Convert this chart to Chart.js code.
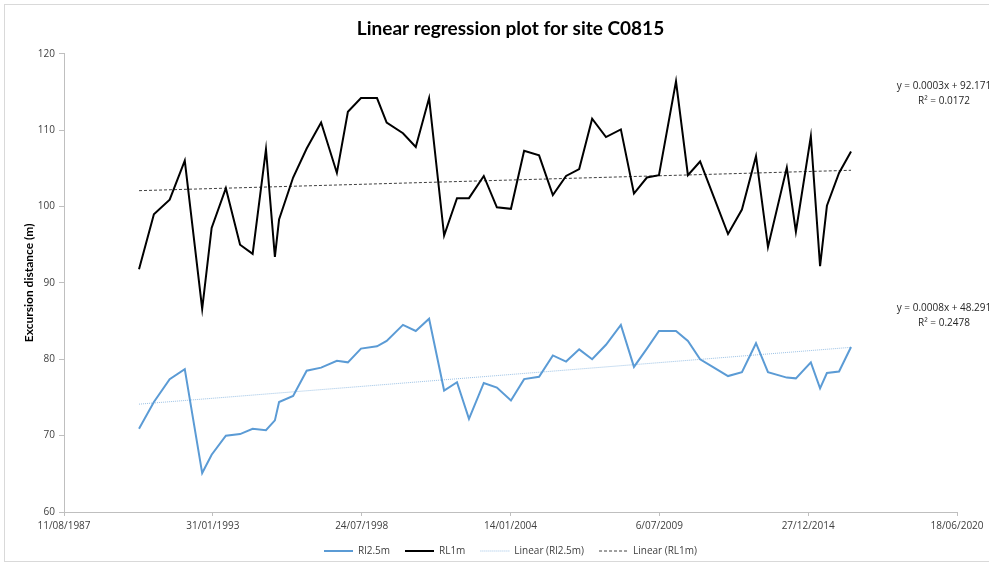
<!DOCTYPE html>
<html><head><meta charset="utf-8">
<script src="https://cdn.jsdelivr.net/npm/chart.js@4.4.1/dist/chart.umd.min.js"></script>
<style>html,body{margin:0;padding:0;background:#fff;}canvas{display:block}</style>
</head><body>
<canvas id="c" width="989" height="566"></canvas>
<script>
// ---- data ----
const sampleDates = [
 "1990-05-15","1990-12-01","1991-07-01","1992-01-20","1992-09-10","1993-01-15","1993-07-25","1994-02-01","1994-07-20","1995-01-15",
 "1995-05-15","1995-07-10","1996-01-15","1996-07-15","1997-01-25","1997-08-25","1998-01-20","1998-07-15","1999-02-15","1999-06-25",
 "2000-01-30","2000-07-20","2001-01-15","2001-08-05","2002-01-25","2002-07-05","2003-01-20","2003-07-15","2004-01-20","2004-07-15",
 "2005-02-01","2005-08-05","2006-01-30","2006-07-25","2007-01-15","2007-07-20","2008-02-05","2008-07-30","2009-01-20","2009-07-01",
 "2010-02-15","2010-07-25","2011-01-05","2011-07-10","2012-01-15","2012-07-20","2013-01-25","2013-07-05","2014-03-15","2014-07-15",
 "2015-02-01","2015-06-05","2015-09-05","2016-02-15","2016-07-25"];
const rl25Values = [
 70.9,74.4,77.4,78.7,65.1,67.5,70.0,70.2,70.9,70.7,
 72.0,74.4,75.2,78.5,78.9,79.8,79.6,81.4,81.7,82.4,
 84.5,83.7,85.3,75.9,77.0,72.2,76.9,76.3,74.6,77.4,
 77.7,80.5,79.7,81.3,80.0,81.9,84.5,79.0,81.4,83.7,
 83.7,82.4,80.0,78.9,77.8,78.3,82.1,78.3,77.6,77.5,
 79.6,76.2,78.2,78.4,81.6];
const rl1Values = [
 91.8,99.0,100.9,106.0,86.6,97.2,102.4,95.0,93.8,107.5,
 93.4,98.3,103.8,107.6,111.0,104.4,112.4,114.2,114.2,111.0,
 109.6,107.8,114.2,96.2,101.1,101.1,104.0,99.9,99.7,107.3,
 106.7,101.5,104.0,104.9,111.5,109.1,110.1,101.7,103.8,104.1,
 116.4,104.1,105.9,101.2,96.4,99.6,106.6,94.7,105.1,96.7,
 109.2,92.2,100.1,104.4,107.2];
const seriesNames = ["Rl2.5m","RL1m","Linear (Rl2.5m)","Linear (RL1m)"];
const xTickLabels = ["11/08/1987","31/01/1993","24/07/1998","14/01/2004","6/07/2009","27/12/2014","18/06/2020"];
const yTickValues = [60,70,80,90,100,110,120];
const trendEquations = [["y = 0.0003x + 92.171","R\u00B2 = 0.0172"],["y = 0.0008x + 48.291","R\u00B2 = 0.2478"]];

// Excel serial date numbers
function toSerial(s){const [y,m,d]=s.split('-').map(Number);return (Date.UTC(y,m-1,d)-Date.UTC(1899,11,30))/86400000;}
const xs = sampleDates.map(toSerial);
function pts(vals){return vals.map((v,i)=>({x:xs[i],y:v}));}
function trend(vals){
  const n=vals.length;let mx=0,my=0;for(let i=0;i<n;i++){mx+=xs[i];my+=vals[i];}mx/=n;my/=n;
  let sxy=0,sxx=0;for(let i=0;i<n;i++){sxy+=(xs[i]-mx)*(vals[i]-my);sxx+=(xs[i]-mx)**2;}
  const b=sxy/sxx,a=my-b*mx;const x0=xs[0],x1=xs[n-1];
  return [{x:x0,y:a+b*x0},{x:x1,y:a+b*x1}];
}

const extras = {
  id:'extras',
  beforeDraw(chart){
    const ctx=chart.ctx;ctx.save();
    ctx.fillStyle='#fff';ctx.fillRect(0,0,chart.width,chart.height);
    ctx.strokeStyle='#d9d9d9';ctx.lineWidth=1;ctx.strokeRect(4.5,4.5,1000,557);
    ctx.restore();
  },
  afterDatasetsDraw(chart){
    const ctx=chart.ctx;const ys=chart.scales.y;const cx=chart.chartArea.right-13;
    ctx.save();ctx.font='10px "Open Sans"';ctx.fillStyle='#262626';ctx.textAlign='center';ctx.textBaseline='middle';
    const anchors=[115.8,86.7];
    trendEquations.forEach((lines,k)=>{
      const y0=ys.getPixelForValue(anchors[k]);
      lines.forEach((t,j)=>ctx.fillText(t,cx,y0+j*15));
    });
    ctx.restore();
  }
};

new Chart(document.getElementById('c'),{
  type:'line',
  data:{datasets:[
    {label:seriesNames[0],data:pts(rl25Values),borderColor:'#5b9bd5',backgroundColor:'#5b9bd5',borderWidth:2,pointRadius:0,tension:0},
    {label:seriesNames[1],data:pts(rl1Values),borderColor:'#000000',backgroundColor:'#000000',borderWidth:2,pointRadius:0,tension:0},
    {label:seriesNames[2],data:trend(rl25Values),borderColor:'#9dc3e6',backgroundColor:'#9dc3e6',borderWidth:1,borderDash:[1,1],pointRadius:0},
    {label:seriesNames[3],data:trend(rl1Values),borderColor:'#404040',backgroundColor:'#404040',borderWidth:1,borderDash:[3,2],pointRadius:0}
  ]},
  options:{
    responsive:false,animation:false,devicePixelRatio:1,
    layout:{padding:{left:5,right:32,top:0,bottom:0}},
    plugins:{
      title:{display:true,text:'Linear regression plot for site C0815',fullSize:false,color:'#000',
        font:{family:'Lato,"Open Sans",sans-serif',size:19,weight:'bold'},padding:{top:17,bottom:14}},
      legend:{position:'bottom',fullSize:false,
        labels:{usePointStyle:true,pointStyle:'line',pointStyleWidth:29,padding:15,color:'#404040',
          font:{family:'"Open Sans"',size:10},
          generateLabels(chart){
            const items=Chart.defaults.plugins.legend.labels.generateLabels(chart);
            items.forEach((it,i)=>{const ds=chart.data.datasets[i];
              it.lineDash=ds.borderDash||[];it.strokeStyle=ds.borderColor;it.lineWidth=ds.borderWidth;it.pointStyle='line';});
            return items;
          }}},
      tooltip:{enabled:false}
    },
    scales:{
      x:{type:'linear',min:32000,max:44000,
        afterBuildTicks(s){s.ticks=xTickLabels.map((_,i)=>({value:32000+2000*i}));},
        ticks:{maxRotation:0,autoSkip:false,padding:4,color:'#404040',font:{family:'"Open Sans"',size:10},
          callback:(v,i)=>xTickLabels[i]},
        grid:{drawOnChartArea:false,tickLength:4,color:'#bfbfbf'},
        border:{color:'#bfbfbf'},
        afterFit(s){s.height=19;}
      },
      y:{min:60,max:120,
        afterBuildTicks(s){s.ticks=yTickValues.map(v=>({value:v}));},
        ticks:{padding:4,color:'#404040',font:{family:'"Open Sans"',size:10}},
        grid:{drawOnChartArea:false,tickLength:5,color:'#bfbfbf'},
        border:{color:'#bfbfbf'},
        title:{display:true,text:'Excursion distance (m)',color:'#000',
          font:{family:'Lato,"Open Sans",sans-serif',size:12,weight:'bold'},padding:{top:17,bottom:0}},
        afterFit(s){s.width=59;}
      }
    }
  },
  plugins:[extras]
});
</script>
</body></html>
